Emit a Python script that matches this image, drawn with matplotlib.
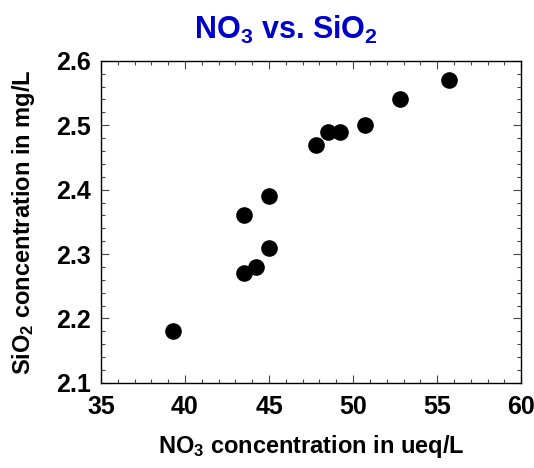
import matplotlib
matplotlib.use("Agg")
import matplotlib.pyplot as plt
from matplotlib.ticker import MultipleLocator

# NO3 (ueq/L) vs SiO2 (mg/L)
no3 = [39.3, 43.5, 44.2, 45.0, 43.5, 45.0, 47.8, 48.5, 49.2, 50.7, 52.8, 55.7]
sio2 = [2.18, 2.27, 2.28, 2.31, 2.36, 2.39, 2.47, 2.49, 2.49, 2.50, 2.54, 2.57]

x_ticks = [35, 40, 45, 50, 55, 60]
y_ticks = [2.1, 2.2, 2.3, 2.4, 2.5, 2.6]

plt.rcParams['font.family'] = 'Liberation Sans'
plt.rcParams['font.weight'] = 'bold'
plt.rcParams['mathtext.fontset'] = 'custom'
plt.rcParams['mathtext.rm'] = 'Liberation Sans:bold'
plt.rcParams['mathtext.bf'] = 'Liberation Sans:bold'
plt.rcParams['mathtext.it'] = 'Liberation Sans:bold'

fig = plt.figure(figsize=(5.34, 4.68), dpi=100)
ax = fig.add_axes([0.189, 0.182, 0.787, 0.688])

ax.scatter(no3, sio2, s=120, color='black', zorder=3)

ax.set_xlim(35, 60)
ax.set_ylim(2.1, 2.6)
ax.set_xticks(x_ticks)
ax.set_yticks(y_ticks)
ax.set_xticklabels([str(t) for t in x_ticks])
ax.set_yticklabels([f"{t:.1f}" for t in y_ticks])
ax.xaxis.set_minor_locator(MultipleLocator(1))
ax.yaxis.set_minor_locator(MultipleLocator(0.02))

ax.tick_params(which='both', direction='in', top=True, right=True, width=0.8, color='#444444')
ax.tick_params(which='major', length=6, labelsize=18)
ax.tick_params(axis='x', which='major', pad=9)
ax.tick_params(axis='y', which='major', pad=7)
ax.tick_params(which='minor', length=3)
for s in ax.spines.values():
    s.set_linewidth(1.0)

ax.set_xlabel(r"NO$_3$ concentration in ueq/L", fontsize=17, fontweight='bold', labelpad=10)
ax.set_ylabel(r"SiO$_2$ concentration in mg/L", fontsize=17, fontweight='bold', labelpad=14)
ax.set_title(r"NO$_3$ vs. SiO$_2$", fontsize=22, fontweight='bold', color='#0000CC', pad=16, x=0.44)

fig.savefig("out.png", dpi=100)
